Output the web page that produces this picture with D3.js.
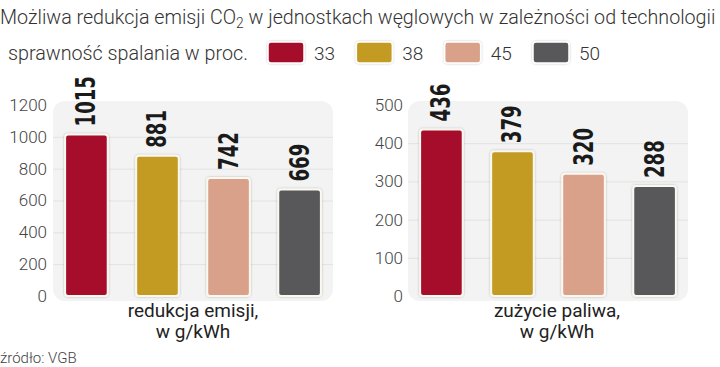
<!DOCTYPE html>
<html><head><meta charset="utf-8">
<script src="https://cdn.jsdelivr.net/npm/d3@7"></script>
<style>body{margin:0;background:#fff}svg{display:block}</style>
</head><body>
<svg id="c" width="720" height="367"></svg>
<script>
const series = ["33","38","45","50"];
const colors = ["#a50f2b","#c39b22","#d9a08a","#58585a"];
const emisja = [1015, 881, 742, 669];
const paliwo = [436, 379, 320, 288];
const ticksLeft = [0,200,400,600,800,1000,1200];
const ticksRight = [0,100,200,300,400,500];
const titleText = ["Możliwa redukcja emisji CO","2"," w jednostkach węglowych w zależności od technologii"];
const legendTitle = "sprawność spalania w proc.";
const labelsLeft = ["redukcja emisji,","w g/kWh"];
const labelsRight = ["zużycie paliwa,","w g/kWh"];
const source = "źródło: VGB";

const svg = d3.select("#c");
const font = "Roboto, 'Open Sans', sans-serif";
const condFont = "'Liberation Sans Narrow','DejaVu Sans Condensed','Roboto Condensed',sans-serif";

const defs = svg.append("defs");
const f = defs.append("filter").attr("id","sh").attr("x","-20%").attr("y","-20%").attr("width","140%").attr("height","140%");
f.append("feDropShadow").attr("dx",0).attr("dy",0).attr("stdDeviation",1).attr("flood-color","#000").attr("flood-opacity",0.25);

function fit(sel, w){
  const n = sel.node(); const l = n.getComputedTextLength();
  const fs = parseFloat(sel.attr("font-size"));
  sel.attr("font-size", fs*w/l);
}

// Title
const t = svg.append("text").attr("x",0).attr("y",24).attr("font-family",font).attr("font-weight",300)
  .attr("font-size",20).attr("fill","#333");
t.append("tspan").text(titleText[0]);
t.append("tspan").attr("font-size","70%").attr("dy",4).text(titleText[1]);
t.append("tspan").attr("dy",-4).text(titleText[2]);
fit(t, 716);

// Legend
const lt = svg.append("text").attr("x",8).attr("y",60).attr("font-family",font).attr("font-weight",300)
  .attr("font-size",18).attr("fill","#333").text(legendTitle);
fit(lt, 240);
const legX = d3.scalePoint().domain(series).range([268,533]);
series.forEach((s,i)=>{
  svg.append("rect").attr("x",legX(s)).attr("y",42).attr("width",36).attr("height",21).attr("rx",3)
    .attr("fill",colors[i]).attr("stroke","#fff").attr("stroke-width",1.5).attr("filter","url(#sh)");
  svg.append("text").attr("x",legX(s)+46).attr("y",60).attr("font-family",font).attr("font-weight",300)
    .attr("font-size",19).attr("fill","#333").text(s);
});

function panel(x0, x1, values, ymax, ticks, labels, labelCx, axisRight){
  const y = d3.scaleLinear().domain([0,ymax]).range([296,105]);
  const x = d3.scaleBand().domain(series).range([x0+5, x1-5]).paddingInner(0.4).paddingOuter(0.1);
  const g = svg.append("g");
  g.append("rect").attr("x",x0).attr("y",101).attr("width",x1-x0).attr("height",200).attr("rx",12).attr("fill","#f3f3f3");
  const ax = g.append("g").attr("transform",`translate(${x1},0)`)
    .call(d3.axisLeft(y).tickValues(ticks).tickSize(x1-x0).tickPadding(6).tickFormat(d3.format("d")));
  ax.select(".domain").remove();
  ax.selectAll(".tick line").attr("stroke","#e2e2e2").attr("stroke-width",1)
    .filter(d=>d===0 || d===ymax).remove();
  ax.selectAll(".tick text").attr("font-family",font).attr("font-weight",300).attr("font-size",17).attr("fill","#444")
    .attr("x",axisRight - x1).attr("text-anchor","end");
  g.selectAll("rect.bar").data(values).join("rect").attr("class","bar")
    .attr("x",(d,i)=>x(series[i])).attr("width",x.bandwidth())
    .attr("y",d=>y(d)).attr("height",d=>y(0)-y(d)).attr("rx",3)
    .attr("fill",(d,i)=>colors[i]).attr("stroke","#fbf8f0").attr("stroke-width",2).attr("filter","url(#sh)");
  g.selectAll("text.val").data(values).join("text").attr("class","val")
    .attr("transform",(d,i)=>`translate(${x(series[i])+x.bandwidth()/2+9},${y(d)-8}) rotate(-90)`)
    .attr("font-family",condFont).attr("font-weight",700).attr("font-size",26).attr("fill","#1a1a1a")
    .attr("textLength",d=>String(d).length*12.6).attr("lengthAdjust","spacingAndGlyphs")
    .text(d=>d);
  labels.forEach((l,i)=>{
    g.append("text").attr("x",labelCx).attr("y",317+i*21).attr("text-anchor","middle")
      .attr("font-family",font).attr("font-size",19).attr("fill","#222").text(l);
  });
}
panel(53, 333, emisja, 1200, ticksLeft, labelsLeft, 193, 47);
panel(408, 688, paliwo, 500, ticksRight, labelsRight, 557, 403);

svg.append("text").attr("x",0).attr("y",363).attr("font-family",font).attr("font-weight",300)
  .attr("font-size",15).attr("fill","#444").text(source);
</script>
</body></html>
